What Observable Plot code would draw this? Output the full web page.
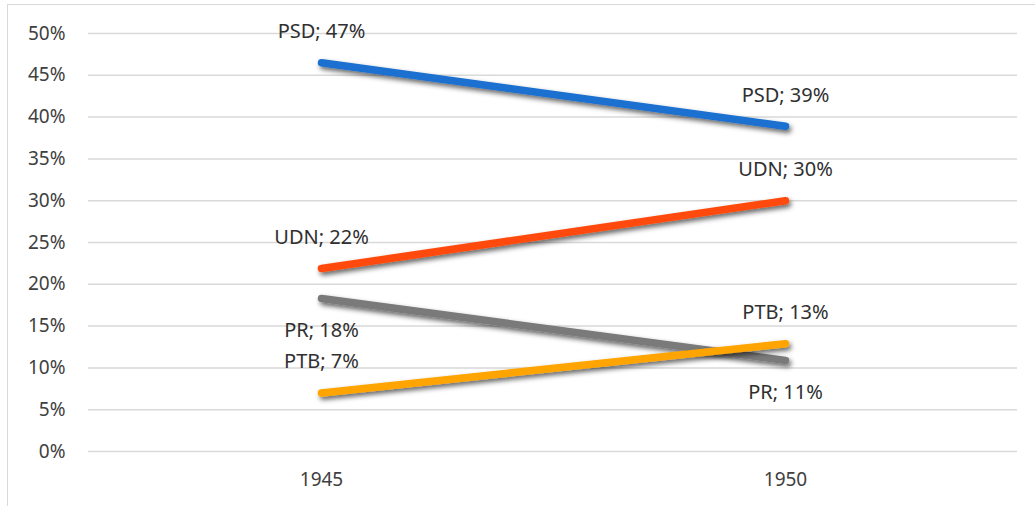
<!DOCTYPE html>
<html>
<head>
<meta charset="utf-8">
<script src="https://cdn.jsdelivr.net/npm/d3@7"></script>
<script src="https://cdn.jsdelivr.net/npm/@observablehq/plot@0.6"></script>
<style>
  html, body { margin: 0; padding: 0; background: #fff; }
  #wrap { position: relative; width: 1035px; height: 506px; overflow: hidden; }
  #border { position: absolute; left: 7px; top: 4px; width: 1040px; height: 520px; border: 1.5px solid #d9d9d9; box-sizing: border-box; }
  #chart { position: absolute; left: 0; top: 0; }
</style>
</head>
<body>
<div id="wrap"><div id="border"></div><div id="chart"></div></div>
<script>
const years = ["1945", "1950"];
const parties = ["PSD", "UDN", "PR", "PTB"];
const psd = [46.5, 38.9];
const udn = [21.9, 30.0];
const pr  = [18.3, 10.9];
const ptb = [7.0, 12.9];
const yTicks = [0, 5, 10, 15, 20, 25, 30, 35, 40, 45, 50];
const colors = ["#1A6FCF", "#FF4A0A", "#7A7A7A", "#FFA400"];

const seriesValues = [psd, udn, pr, ptb];
const rows = [];
parties.forEach((p, i) => {
  years.forEach((yr, j) => rows.push({party: p, year: yr, value: seriesValues[i][j]}));
});
const below = new Set(["PR"]);
const fmt = d => `${d.party}; ${Math.round(d.value)}%`;
const textFont = "Noto Sans, sans-serif";

const lines = parties.map((p, i) =>
  Plot.line(rows.filter(d => d.party === p), {
    x: "year", y: "value", stroke: colors[i], strokeWidth: 7.5,
    strokeLinecap: "round", className: "shadowed"
  })
);

const plot = Plot.plot({
  width: 1035,
  height: 506,
  marginLeft: 88,
  marginRight: 18,
  marginTop: 33,
  marginBottom: 55,
  style: { fontFamily: textFont, fontSize: "19px", color: "#404040", background: "transparent" },
  x: { type: "point", domain: years, padding: 0.5, label: null },
  y: { domain: [0, 50], label: null },
  marks: [
    Plot.gridY(yTicks, { stroke: "#d9d9d9", strokeOpacity: 1, strokeWidth: 1.5 }),
    Plot.axisY(yTicks, { tickSize: 0, tickPadding: 23, tickFormat: d => d + "%", fill: "#404040", fontSize: 19, label: null }),
    Plot.axisX(years, { tickSize: 0, tickPadding: 21, fill: "#404040", fontSize: 19, label: null }),
    ...lines,
    Plot.text(rows.filter(d => !below.has(d.party)), {
      x: "year", y: "value", text: fmt, dy: -31,
      fill: "#303030", fontSize: 20
    }),
    Plot.text(rows.filter(d => below.has(d.party)), {
      x: "year", y: "value", text: fmt, dy: 32,
      fill: "#303030", fontSize: 20
    })
  ]
});

// drop shadow filter
const defs = document.createElementNS("http://www.w3.org/2000/svg", "defs");
defs.innerHTML = `<filter id="shadow" x="-10%" y="-50%" width="120%" height="200%">
  <feDropShadow dx="2" dy="3" stdDeviation="2.5" flood-color="#000" flood-opacity="0.6"/></filter>`;
plot.insertBefore(defs, plot.firstChild);
plot.querySelectorAll(".shadowed").forEach(g => g.setAttribute("filter", "url(#shadow)"));

document.getElementById("chart").appendChild(plot);
</script>
</body>
</html>
